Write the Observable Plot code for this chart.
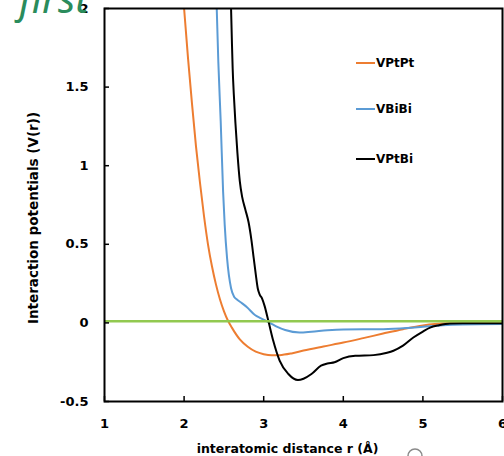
<!DOCTYPE html>
<html><head><meta charset="utf-8">
<script src="https://cdn.jsdelivr.net/npm/d3@7"></script>
<script src="https://cdn.jsdelivr.net/npm/@observablehq/plot@0.6"></script>
<style>
html,body{margin:0;padding:0;background:#fff;overflow:hidden;}
#wrap{position:relative;width:504px;height:456px;overflow:hidden;}
#wrap svg{position:absolute;left:0;top:0;}
</style></head><body><div id="wrap"></div>
<script>
const xTicks = [1, 2, 3, 4, 5, 6];
const yTicks = [-0.5, 0, 0.5, 1, 1.5, 2];
const seriesNames = ["VPtPt", "VBiBi", "VPtBi"];
const seriesColors = ["#ED7D31", "#5B9BD5", "#000000"];
const zeroColor = "#92C950";
const baseline = [0.01];

const rPtPt = [2.00, 2.05, 2.10, 2.15, 2.20, 2.25, 2.30, 2.35, 2.40, 2.45, 2.50, 2.55, 2.60, 2.70, 2.80, 2.90, 3.00, 3.10, 3.20, 3.35, 3.50, 3.75, 4.00, 4.25, 4.50, 4.75, 5.00, 5.15, 5.30, 5.50, 6.00];
const vPtPt = [2.00, 1.68, 1.39, 1.12, 0.89, 0.68, 0.50, 0.36, 0.245, 0.15, 0.075, 0.015, -0.03, -0.105, -0.152, -0.183, -0.199, -0.206, -0.205, -0.194, -0.176, -0.15, -0.125, -0.097, -0.068, -0.04, -0.016, -0.007, -0.003, -0.003, -0.003];

const rBiBi = [2.41, 2.43, 2.46, 2.49, 2.51, 2.54, 2.59, 2.63, 2.66, 2.72, 2.79, 2.89, 2.96, 3.04, 3.15, 3.27, 3.45, 3.60, 3.80, 4.00, 4.50, 4.80, 5.00, 5.25, 5.50, 6.00];
const vBiBi = [2.00, 1.66, 1.28, 0.835, 0.625, 0.41, 0.22, 0.165, 0.15, 0.128, 0.10, 0.05, 0.03, 0.01, -0.02, -0.045, -0.061, -0.056, -0.047, -0.042, -0.04, -0.033, -0.025, -0.015, -0.01, -0.007];

const rPtBi = [2.59, 2.60, 2.61, 2.625, 2.645, 2.67, 2.70, 2.73, 2.77, 2.81, 2.845, 2.875, 2.90, 2.925, 2.95, 2.98, 3.01, 3.06, 3.12, 3.20, 3.31, 3.43, 3.50, 3.60, 3.72, 3.80, 3.89, 4.00, 4.15, 4.38, 4.55, 4.63, 4.75, 4.88, 5.00, 5.09, 5.20, 5.34, 5.50, 6.00];
const vPtBi = [2.00, 1.80, 1.62, 1.45, 1.27, 1.08, 0.90, 0.80, 0.72, 0.64, 0.53, 0.41, 0.31, 0.22, 0.18, 0.155, 0.11, 0.01, -0.114, -0.24, -0.325, -0.363, -0.355, -0.325, -0.272, -0.258, -0.25, -0.224, -0.209, -0.205, -0.19, -0.177, -0.145, -0.093, -0.055, -0.03, -0.015, -0.004, -0.003, -0.003];

const rs = [rPtPt, rBiBi, rPtBi];
const vs = [vPtPt, vBiBi, vPtBi];
const rows = [];
seriesNames.forEach((name, i) => rs[i].forEach((r, j) => rows.push({series: name, r, v: vs[i][j]})));

const W = 504, H = 456, mL = 104, mR = 2, mT = 8, mB = 55;
const innerW = W - mL - mR, innerH = H - mT - mB;

const chart = Plot.plot({
  width: W, height: H,
  marginLeft: mL, marginRight: mR, marginTop: mT, marginBottom: mB,
  style: {fontFamily: "DejaVu Sans", fontWeight: "bold", fontSize: "13px", color: "#000", background: "transparent"},
  x: {domain: [xTicks[0], xTicks[xTicks.length - 1]]},
  y: {domain: [yTicks[0], yTicks[yTicks.length - 1]]},
  color: {domain: seriesNames, range: seriesColors},
  marks: [
    Plot.line(rows.filter(d => d.series !== "VPtBi"), {x: "r", y: "v", stroke: "series", curve: "monotone-x", strokeWidth: 2, clip: true}),
    Plot.line(rows.filter(d => d.series === "VPtBi"), {x: "r", y: "v", stroke: "series", curve: "monotone-x", strokeWidth: 2, clip: true}),
    Plot.ruleY(baseline, {stroke: zeroColor, strokeWidth: 2.5}),
    Plot.tickX(xTicks, {x: d => d, insetTop: innerH - 5, stroke: "#000", strokeWidth: 1.5}),
    Plot.tickY(yTicks, {y: d => d, insetRight: innerW - 5, stroke: "#000", strokeWidth: 1.5}),
    Plot.frame({stroke: "#000", strokeWidth: 2}),
    Plot.axisX(xTicks, {tickSize: 0, tickPadding: 17, tickFormat: d => String(d), label: null}),
    Plot.axisY(yTicks, {tickSize: 0, tickPadding: 16, tickFormat: d => String(d), label: null})
  ]
});

const wrap = document.getElementById("wrap");
wrap.appendChild(chart);

// overlay: titles, legend, decorations
const ov = d3.select(wrap).append("svg")
  .attr("width", W).attr("height", H)
  .style("font-family", "DejaVu Sans").style("font-weight", "bold");

ov.append("text").text("first")
  .attr("x", 19).attr("y", 13)
  .style("font-family", "Noto Sans").style("font-style", "italic").style("font-weight", "normal")
  .style("font-size", "40px").attr("fill", "#2a8c5c");

ov.append("text").text("Interaction potentials (V(r))")
  .attr("transform", "translate(33,218) rotate(-90)")
  .attr("text-anchor", "middle").attr("dominant-baseline", "central")
  .style("font-size", "13.5px").attr("fill", "#000");

ov.append("text").text("interatomic distance r (Å)")
  .attr("x", 287.5).attr("y", 448)
  .attr("text-anchor", "middle").attr("dominant-baseline", "central")
  .style("font-size", "12.5px").attr("fill", "#000");

const legendY = [63, 109, 159];
seriesNames.forEach((name, i) => {
  ov.append("line").attr("x1", 356).attr("x2", 375).attr("y1", legendY[i]).attr("y2", legendY[i])
    .attr("stroke", seriesColors[i]).attr("stroke-width", 2);
  ov.append("text").text(name).attr("x", 376).attr("y", legendY[i])
    .attr("dominant-baseline", "central").style("font-size", "12px").attr("fill", "#000");
});

ov.append("circle").attr("cx", 415).attr("cy", 456).attr("r", 7)
  .attr("fill", "#fff").attr("stroke", "#8a8a8a").attr("stroke-width", 1.5);
</script>
</body></html>
